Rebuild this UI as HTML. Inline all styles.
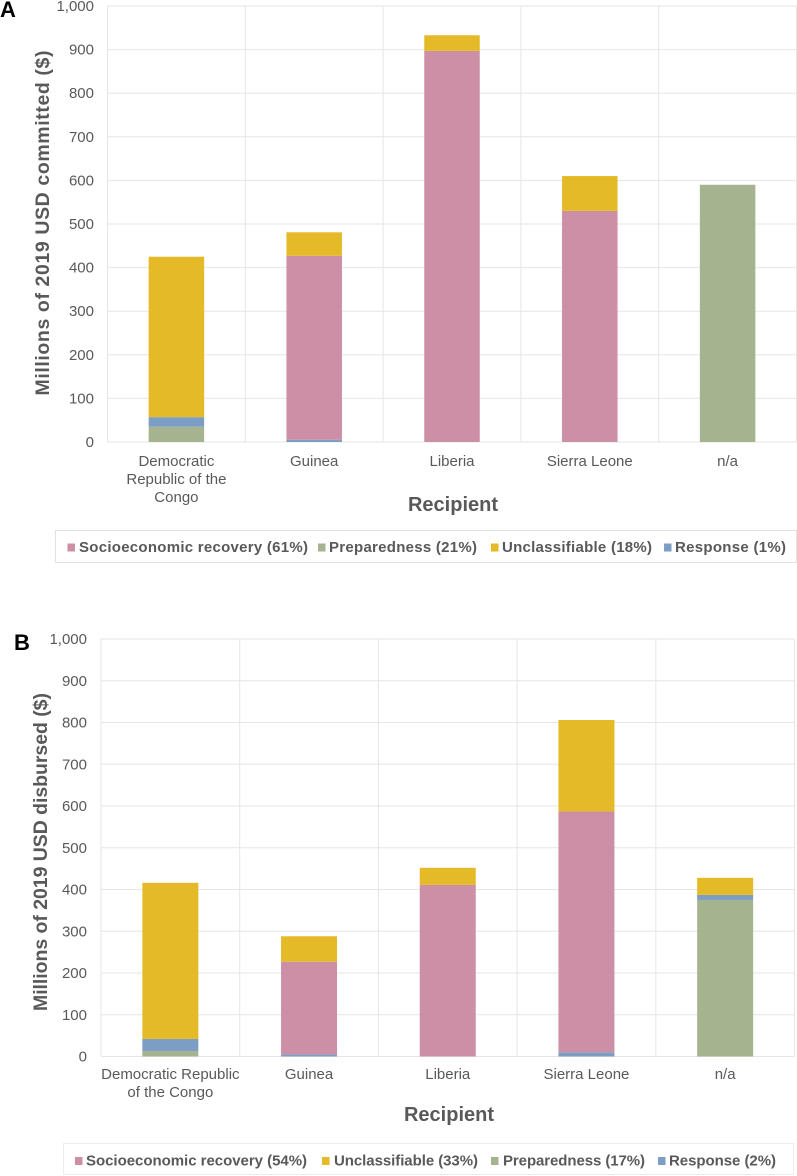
<!DOCTYPE html>
<html>
<head>
<meta charset="utf-8">
<title>Committed and disbursed funding by recipient</title>
<style>
html,body{margin:0;padding:0;background:#fff;}
svg{display:block;}
text{font-family:"Liberation Sans",sans-serif;fill:#595959;}
.tick{font-size:15px;}
.cat{font-size:15px;}
.axis{font-size:19.5px;font-weight:bold;}
.recipient{font-size:20px;font-weight:bold;}
.leg{font-size:15px;font-weight:bold;}
.panel{font-size:22px;font-weight:bold;fill:#000;}
</style>
</head>
<body>
<svg id="figure" xmlns="http://www.w3.org/2000/svg" width="797" height="1176" viewBox="0 0 797 1176">
  <g id="chart-a">
    <text class="panel" x="0" y="17">A</text>
    <text class="axis" transform="translate(49,223) rotate(-90)" text-anchor="middle" textLength="345" lengthAdjust="spacing">Millions of 2019 USD committed ($)</text>
    <text class="recipient" x="453" y="511" text-anchor="middle">Recipient</text>
    <rect x="55.5" y="530.5" width="741" height="32" fill="#fff" stroke="#e2e2e2"/>
    <rect x="67.5" y="543.5" width="7.5" height="8" fill="#cd8fa6"/>
    <text class="leg" x="79" y="552" textLength="229" lengthAdjust="spacing">Socioeconomic recovery (61%)</text>
    <rect x="318" y="543.5" width="7.5" height="8" fill="#a5b38f"/>
    <text class="leg" x="329" y="552" textLength="148" lengthAdjust="spacing">Preparedness (21%)</text>
    <rect x="491" y="543.5" width="7.5" height="8" fill="#e5ba29"/>
    <text class="leg" x="502" y="552" textLength="150" lengthAdjust="spacing">Unclassifiable (18%)</text>
    <rect x="664" y="543.5" width="7.5" height="8" fill="#7c9dc4"/>
    <text class="leg" x="675" y="552" textLength="111" lengthAdjust="spacing">Response (1%)</text>
  </g>
  <g id="chart-b">
    <text class="panel" x="14" y="650">B</text>
    <text class="axis" transform="translate(47,852) rotate(-90)" text-anchor="middle" textLength="318" lengthAdjust="spacing">Millions of 2019 USD disbursed ($)</text>
    <text class="recipient" x="449" y="1121" text-anchor="middle">Recipient</text>
    <rect x="63.5" y="1143.5" width="730" height="31" fill="#fff" stroke="#ececec"/>
    <rect x="75" y="1157" width="7.5" height="8" fill="#cd8fa6"/>
    <text class="leg" x="86" y="1165.5" textLength="221" lengthAdjust="spacing">Socioeconomic recovery (54%)</text>
    <rect x="322" y="1157" width="7.5" height="8" fill="#e5ba29"/>
    <text class="leg" x="334" y="1165.5" textLength="144" lengthAdjust="spacing">Unclassifiable (33%)</text>
    <rect x="491" y="1157" width="7.5" height="8" fill="#a5b38f"/>
    <text class="leg" x="503" y="1165.5" textLength="142" lengthAdjust="spacing">Preparedness (17%)</text>
    <rect x="658" y="1157" width="7.5" height="8" fill="#7c9dc4"/>
    <text class="leg" x="669" y="1165.5" textLength="107" lengthAdjust="spacing">Response (2%)</text>
  </g>
</svg>
<script>
const tickValues = [0, 100, 200, 300, 400, 500, 600, 700, 800, 900, 1000];
const tickLabels = ['0', '100', '200', '300', '400', '500', '600', '700', '800', '900', '1,000'];

const seriesNames = ['preparedness', 'response', 'socioeconomic', 'unclassifiable'];
const seriesColors = ['#a5b38f', '#7c9dc4', '#cd8fa6', '#e5ba29'];

const categoriesA = [['Democratic', 'Republic of the', 'Congo'], ['Guinea'], ['Liberia'], ['Sierra Leone'], ['n/a']];
const preparednessA = [35, 0, 0, 0, 590];
const responseA = [22, 5, 0, 0, 0];
const socioeconomicA = [0, 422, 897, 530, 0];
const unclassifiableA = [368, 54, 36, 80, 0];

const categoriesB = [['Democratic Republic', 'of the Congo'], ['Guinea'], ['Liberia'], ['Sierra Leone'], ['n/a']];
const preparednessB = [13, 0, 0, 0, 375];
const responseB = [29, 5, 0, 10, 12];
const socioeconomicB = [0, 222, 411, 577, 0];
const unclassifiableB = [374, 61, 41, 219, 41];

const NS = 'http://www.w3.org/2000/svg';

function drawChart(parentId, frame, categories, series) {
  const parent = document.getElementById(parentId);
  const yScale = function (v) { return frame.bottom - (v / 1000) * (frame.bottom - frame.top); };
  const slot = (frame.right - frame.left) / categories.length;
  const xScale = function (i) { return frame.left + slot * i; };

  tickValues.forEach(function (v, i) {
    const line = document.createElementNS(NS, 'line');
    line.setAttribute('x1', frame.left);
    line.setAttribute('x2', frame.right);
    line.setAttribute('y1', yScale(v));
    line.setAttribute('y2', yScale(v));
    line.setAttribute('stroke', '#e6e6e6');
    
    
    parent.appendChild(line);

    const label = document.createElementNS(NS, 'text');
    label.setAttribute('class', 'tick');
    label.setAttribute('x', frame.tickX);
    label.setAttribute('y', yScale(v) + 5);
    label.setAttribute('text-anchor', 'end');
    label.textContent = tickLabels[i];
    
    
    parent.appendChild(label);
  });

  for (let i = 0; i <= categories.length; i++) {
    const line = document.createElementNS(NS, 'line');
    line.setAttribute('x1', xScale(i));
    line.setAttribute('x2', xScale(i));
    line.setAttribute('y1', frame.top);
    line.setAttribute('y2', frame.bottom);
    line.setAttribute('stroke', '#e6e6e6');
    
    
    parent.appendChild(line);
  }

  categories.forEach(function (lines, i) {
    const centre = xScale(i) + slot / 2;
    let running = 0;
    series.forEach(function (values, s) {
      const value = values[i];
      if (value > 0) {
        const bar = document.createElementNS(NS, 'rect');
        bar.setAttribute('x', centre - frame.barWidth / 2);
        bar.setAttribute('width', frame.barWidth);
        bar.setAttribute('y', yScale(running + value));
        bar.setAttribute('height', yScale(running) - yScale(running + value));
        bar.setAttribute('fill', seriesColors[s]);
        
        
        parent.appendChild(bar);
      }
      running += value;
    });

    lines.forEach(function (lineText, n) {
      const label = document.createElementNS(NS, 'text');
      label.setAttribute('class', 'cat');
      label.setAttribute('x', centre);
      label.setAttribute('y', frame.catY + n * 18);
      label.setAttribute('text-anchor', 'middle');
      label.textContent = lineText;
      
      
      parent.appendChild(label);
    });
  });
}

drawChart('chart-a',
  { left: 107.5, right: 796.5, top: 6, bottom: 442, tickX: 94, catY: 466, barWidth: 55.5 },
  categoriesA,
  [preparednessA, responseA, socioeconomicA, unclassifiableA]);

drawChart('chart-b',
  { left: 101, right: 794.5, top: 639, bottom: 1056.5, tickX: 87, catY: 1079, barWidth: 56 },
  categoriesB,
  [preparednessB, responseB, socioeconomicB, unclassifiableB]);
</script>
</body>
</html>
